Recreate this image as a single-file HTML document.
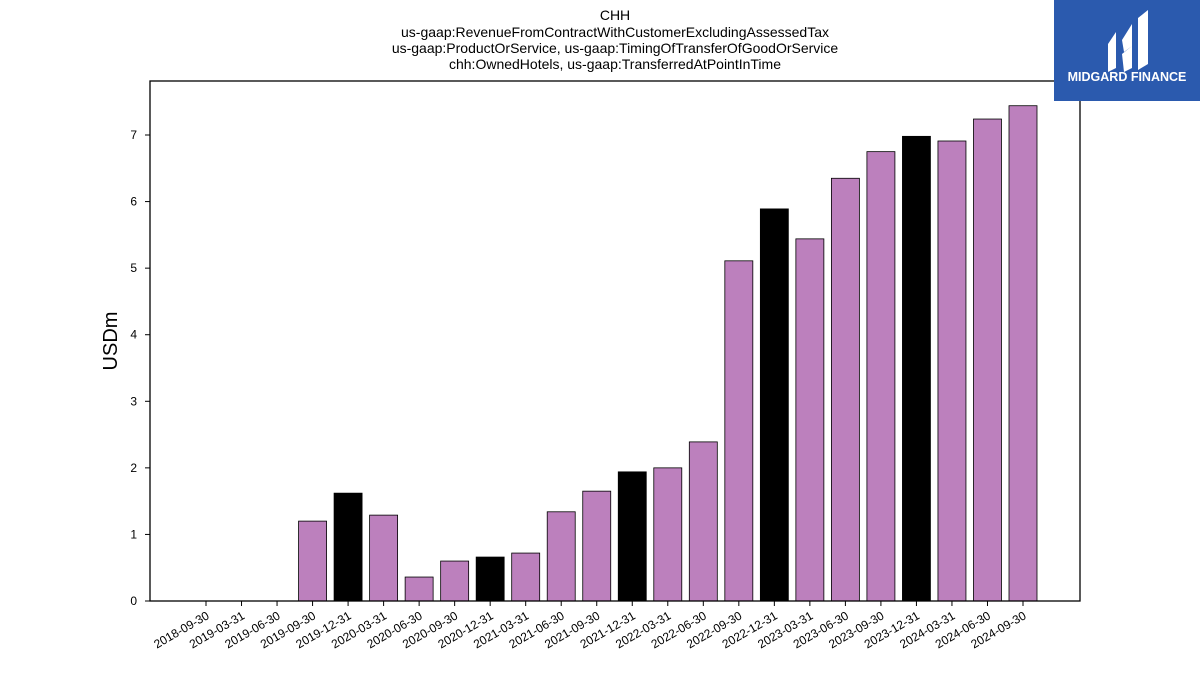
<!DOCTYPE html>
<html><head><meta charset="utf-8"><style>
body{margin:0;background:#fff;}
svg{display:block;font-family:"Liberation Sans","DejaVu Sans",sans-serif;}
</style></head><body>
<svg id="chart" width="1200" height="675" viewBox="0 0 1200 675">
<g font-size="14" text-anchor="middle" fill="#000">
<text x="615" y="20">CHH</text>
<text x="615" y="37">us-gaap:RevenueFromContractWithCustomerExcludingAssessedTax</text>
<text x="615" y="53">us-gaap:ProductOrService, us-gaap:TimingOfTransferOfGoodOrService</text>
<text x="615" y="69">chh:OwnedHotels, us-gaap:TransferredAtPointInTime</text>
</g>
<text x="117" y="341" font-size="20" text-anchor="middle" transform="rotate(-90 117 341)">USDm</text>
<g id="bars"></g>
<g id="yaxis"></g>
<g id="xaxis"></g>
<rect x="150" y="81" width="930" height="520" fill="none" stroke="#000" stroke-width="1.3"/>
<g>
<rect x="1054" y="0" width="146" height="101" fill="#2b5aae"/>
<path d="M1108 44 L1116 32 L1116 68 L1108 72 Z M1122 40 L1132 24 L1132 46 L1124 52 Z M1122 54 L1132 46 L1132 68 L1124 72 Z M1138 18 L1148 10 L1148 64 L1138 70 Z" fill="#fff"/>
<text x="1127" y="81" font-size="12.5" font-weight="bold" fill="#fff" text-anchor="middle">MIDGARD FINANCE</text>
</g>
</svg>
<script>
const categories=["2018-09-30","2019-03-31","2019-06-30","2019-09-30","2019-12-31","2020-03-31","2020-06-30","2020-09-30","2020-12-31","2021-03-31","2021-06-30","2021-09-30","2021-12-31","2022-03-31","2022-06-30","2022-09-30","2022-12-31","2023-03-31","2023-06-30","2023-09-30","2023-12-31","2024-03-31","2024-06-30","2024-09-30"].filter((c,i)=>true);
const values=[0,0,0,1.20,1.62,1.29,0.36,0.60,0.66,0.72,1.34,1.65,1.94,2.00,2.39,5.11,5.89,5.44,6.35,6.75,6.98,6.91,7.24,7.44];
const yTicks=[0,1,2,3,4,5,6,7];
const NS="http://www.w3.org/2000/svg";
const x0=206,step=(1023-206)/(categories.length-2);
// 24 entries with 23 displayed in ref? keep data aligned
const cats=categories.length===values.length?categories:categories;
const xs=i=>x0+(i-0)*((1023-206)/(cats.length-1));
const ys=v=>601-v*66.57;
const bars=document.getElementById('bars'),xa=document.getElementById('xaxis'),ya=document.getElementById('yaxis');
cats.forEach((c,i)=>{
  const v=values[i];const x=xs(i);
  if(v>0){
    const r=document.createElementNS(NS,'rect');
    
    
    r.setAttribute('x',x-14);r.setAttribute('width',28);
    r.setAttribute('y',ys(v));r.setAttribute('height',601-ys(v));
    r.setAttribute('fill',c.endsWith('12-31')?'#000':'#bc80bd');
    r.setAttribute('stroke','#000');r.setAttribute('stroke-width','0.8');
    bars.appendChild(r);
  }
  const t=document.createElementNS(NS,'line');
  
  
  t.setAttribute('x1',x);t.setAttribute('x2',x);t.setAttribute('y1',601);t.setAttribute('y2',606);t.setAttribute('stroke','#000');
  xa.appendChild(t);
  const l=document.createElementNS(NS,'text');
  
  
  l.setAttribute('x',x+4);l.setAttribute('y',618);l.setAttribute('font-size','12');l.setAttribute('text-anchor','end');
  l.setAttribute('transform','rotate(-30 '+(x+4)+' 618)');l.textContent=c;
  xa.appendChild(l);
});
yTicks.forEach(v=>{
  const y=ys(v);
  const t=document.createElementNS(NS,'line');
  
  
  t.setAttribute('x1',145);t.setAttribute('x2',150);t.setAttribute('y1',y);t.setAttribute('y2',y);t.setAttribute('stroke','#000');
  ya.appendChild(t);
  const l=document.createElementNS(NS,'text');
  
  
  l.setAttribute('x',137);l.setAttribute('y',y+4);l.setAttribute('font-size','12');l.setAttribute('text-anchor','end');
  l.textContent=v;ya.appendChild(l);
});
</script>
</body></html>
